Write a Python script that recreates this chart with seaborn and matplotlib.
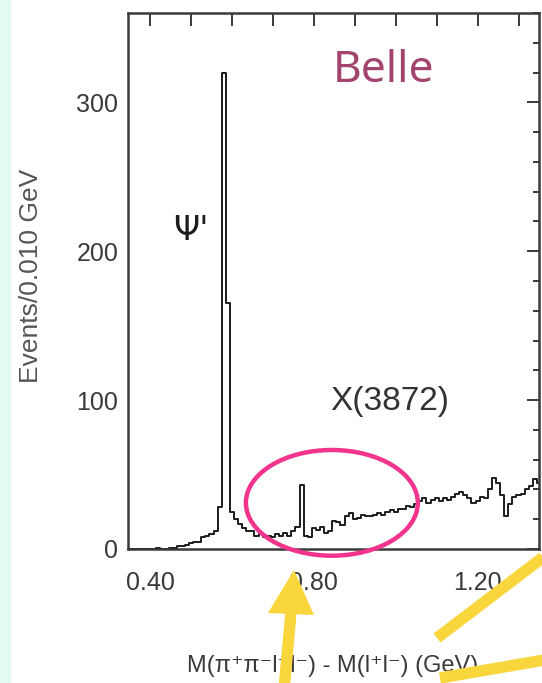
import numpy as np
import pandas as pd
import matplotlib
matplotlib.use("Agg")
import matplotlib.pyplot as plt
from matplotlib.ticker import MultipleLocator, FormatStrFormatter
from matplotlib.patches import Ellipse, Polygon, Rectangle
from matplotlib.lines import Line2D
import seaborn as sns

# M(pi+ pi- l+ l-) - M(l+ l-) spectrum, 10 MeV bins (GeV)
bin_edges = np.linspace(0.335, 1.355, 103)
bin_centers = bin_edges[:-1] + 0.005
events = [
    0, 0, 0, 0, 0, 0, 0, 0,                       # 0.34 - 0.41
    1, 0, 0, 1, 1, 2, 2, 3,                       # 0.42 - 0.49
    4, 5, 5, 8, 9, 10, 12, 28, 320, 165,          # 0.50 - 0.59
    25, 20, 17, 14, 12, 12, 9, 10, 8, 9,          # 0.60 - 0.69
    8, 10, 9, 11, 9, 12, 15, 43, 9, 8,            # 0.70 - 0.79
    14, 13, 15, 11, 12, 19, 18, 16, 22, 24,       # 0.80 - 0.89
    20, 21, 23, 22, 22, 23, 24, 23, 25, 26,       # 0.90 - 0.99
    25, 27, 27, 29, 28, 30, 32, 34, 31, 33,       # 1.00 - 1.09
    34, 32, 34, 33, 35, 37, 38, 36, 34, 31,       # 1.10 - 1.19
    32, 35, 34, 40, 48, 44, 36, 22, 30, 35,       # 1.20 - 1.29
    36, 37, 40, 42, 47, 44,                       # 1.30 - 1.35
]

x_ticks_major = 0.4
x_ticks_minor = 0.1
y_ticks_major = 100
y_ticks_minor = 20

spectrum = pd.DataFrame({"mass": bin_centers, "events": events})

sns.set_style("white")
plt.rcParams["font.family"] = ["Liberation Sans", "DejaVu Sans"]

W, H = 542, 683
fig = plt.figure(figsize=(W / 100, H / 100), dpi=100)
fig.patch.set_facecolor("white")

# pale slide margin on the left
fig.add_artist(Rectangle((0, 0), 11 / W, 1, transform=fig.transFigure,
                         facecolor="#e1faf3", edgecolor="none", zorder=0))

ax = fig.add_axes([128 / W, 1 - 549 / H, 411 / W, 536 / H])
ax.set_facecolor("white")

sns.histplot(data=spectrum, x="mass", weights="events",
             bins=list(bin_edges), element="step", fill=False,
             color="#1c1c1c", linewidth=1.4, ax=ax)

ax.set_xlim(0.346, 1.35)
ax.set_ylim(0, 360)

ink = "#3a3a3a"
for sp in ax.spines.values():
    sp.set_visible(True)
    sp.set_linewidth(1.8)
    sp.set_color(ink)

ax.xaxis.set_major_locator(MultipleLocator(x_ticks_major))
ax.xaxis.set_minor_locator(MultipleLocator(x_ticks_minor))
ax.xaxis.set_major_formatter(FormatStrFormatter("%.2f"))
ax.yaxis.set_major_locator(MultipleLocator(y_ticks_major))
ax.yaxis.set_minor_locator(MultipleLocator(y_ticks_minor))

ax.tick_params(which="both", direction="in", top=True, right=True,
               color=ink, width=1.4)
ax.tick_params(axis="x", which="both", length=9, pad=16,
               labelsize=18, labelcolor=ink)
ax.tick_params(axis="y", which="major", length=9, pad=7,
               labelsize=18, labelcolor=ink)
ax.tick_params(axis="y", which="minor", length=4)

ax.set_xlabel("M(π⁺π⁻l⁺l⁻) - M(l⁺l⁻) (GeV)", fontsize=17, color=ink)
ax.xaxis.set_label_coords(0.499, -0.198)
ax.set_ylabel("Events/0.010 GeV", fontsize=19, color="#555555")
ax.yaxis.set_label_coords(-0.207, 0.509)

ax.text(0.50, 214, "Ψ'", fontsize=24, color="#1c1c1c", ha="center",
        va="center", family=["DejaVu Sans"])
ax.text(0.985, 99, "X(3872)", fontsize=24, color="#333333", ha="center",
        va="center")

# circle around the X(3872) region
ax.add_patch(Ellipse((0.844, 31), width=0.42, height=71, fill=False,
                     edgecolor="#f2348c", linewidth=3.2, zorder=5,
                     clip_on=False))

fig.text(333 / W, 1 - 82 / H, "Belle", fontsize=32, color="#a3446f",
         ha="left", va="baseline", family=["Noto Sans", "DejaVu Sans"])

# yellow pointers
gold = "#f9d73c"


def fp(x, y):
    return (x / W, 1 - y / H)


fig.add_artist(Polygon([fp(294, 570), fp(268, 613), fp(314, 615)],
                       closed=True, transform=fig.transFigure,
                       facecolor=gold, edgecolor="none", zorder=6))
for (x0, y0), (x1, y1) in [((291, 612), (284, 690)),
                           ((437, 638), (550, 552)),
                           ((440, 678), (550, 659))]:
    (a, b), (c, d) = fp(x0, y0), fp(x1, y1)
    fig.add_artist(Line2D([a, c], [b, d], transform=fig.transFigure,
                          color=gold, linewidth=8.2, solid_capstyle="butt",
                          zorder=6))

fig.savefig("out.png", dpi=100, facecolor="white")
